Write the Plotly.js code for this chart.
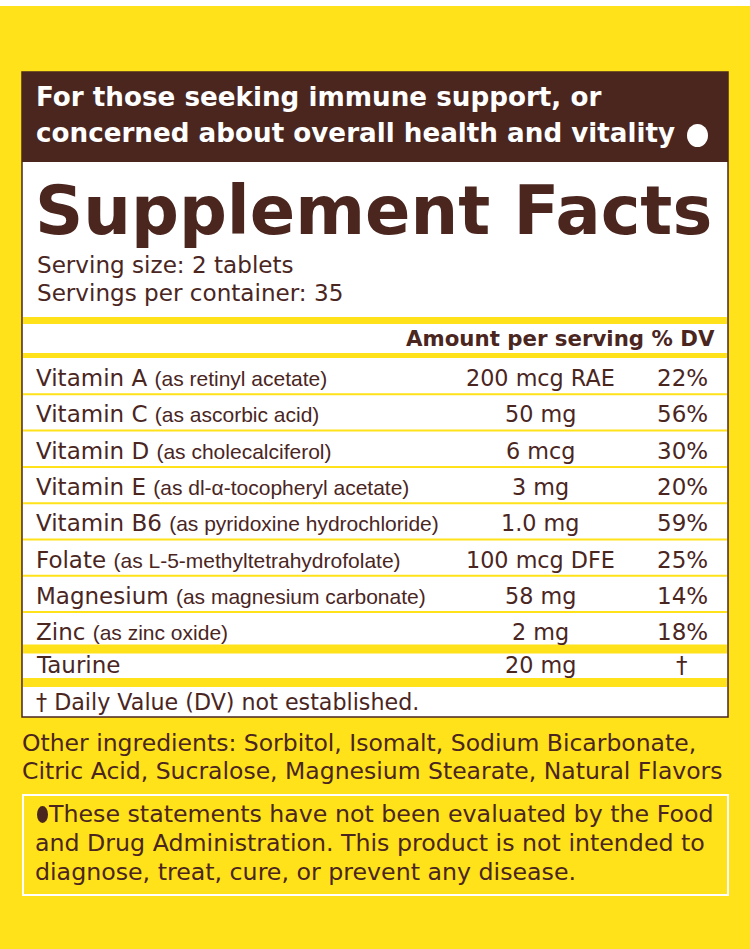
<!DOCTYPE html>
<html>
<head>
<meta charset="utf-8">
<script src="https://cdn.plot.ly/plotly-3.0.1.min.js"></script>
<style>html,body{margin:0;padding:0;background:#FFE21A;}#chart{width:750px;height:949px;}</style>
</head>
<body>
<div id="chart"></div>
<script>
// ---- data ----
const headline = ["For those seeking immune support, or", "concerned about overall health and vitality"];
const title = "Supplement Facts";
const servingInfo = ["Serving size: 2 tablets", "Servings per container: 35"];
const columnHeader = "Amount per serving % DV";
const nutrients = ["Vitamin A", "Vitamin C", "Vitamin D", "Vitamin E", "Vitamin B6", "Folate", "Magnesium", "Zinc", "Taurine"];
const sources = ["(as retinyl acetate)", "(as ascorbic acid)", "(as cholecalciferol)", "(as dl-\u03b1-tocopheryl acetate)", "(as pyridoxine hydrochloride)", "(as L-5-methyltetrahydrofolate)", "(as magnesium carbonate)", "(as zinc oxide)", ""];
const amounts = ["200 mcg RAE", "50 mg", "6 mcg", "3 mg", "1.0 mg", "100 mcg DFE", "58 mg", "2 mg", "20 mg"];
const dailyValues = ["22%", "56%", "30%", "20%", "59%", "25%", "14%", "18%", "\u2020"];
const footnote = "\u2020 Daily Value (DV) not established.";
const otherIngredients = ["Other ingredients: Sorbitol, Isomalt, Sodium Bicarbonate,", "Citric Acid, Sucralose, Magnesium Stearate, Natural Flavors"];
const disclaimer = ["These statements have not been evaluated by the Food", "and Drug Administration. This product is not intended to", "diagnose, treat, cure, or prevent any disease."];

// ---- style ----
const YEL = "#FFE21A", BROWN = "#4A261F", WHITE = "#FFFFFF";
const FONT = "DejaVu Sans, sans-serif";

const shapes = [], ann = [];
function rect(x0, y0, x1, y1, fill, line) {
  shapes.push({type: "rect", xref: "x", yref: "y", x0, y0, x1, y1, fillcolor: fill,
    line: line || {width: 0}, layer: "below"});
}
function text(t, x, y, size, color, anchor, bold) {
  ann.push({text: bold ? "<b>" + t + "</b>" : t, x, y, xref: "x", yref: "y", showarrow: false,
    xanchor: anchor || "left", yanchor: "middle", borderpad: 0, font: {size, color, family: FONT}});
}

// top white strip
rect(0, 0, 750, 6, WHITE);
// panel
rect(22, 72, 728, 717, WHITE, {color: BROWN, width: 1.5});
rect(22, 72, 728, 162, BROWN);
// separators
rect(23, 317, 727, 324, YEL);
rect(23, 353, 727, 358, YEL);
const rowTop = 358, pitch = 36.3;
for (let i = 1; i < nutrients.length; i++) {
  const y = rowTop + pitch * i;
  if (i === nutrients.length - 1) rect(23, y - 4, 727, y + 5, YEL);
  else rect(23, y - 1, 727, y + 1, YEL);
}
rect(23, 678, 727, 687, YEL);

// headline
headline.forEach((t, i) => text(t, 35, 97 + i * 36, 26.2, WHITE, "left", true));
shapes.push({type: "circle", xref: "x", yref: "y", x0: 687, x1: 708, y0: 124, y1: 147, fillcolor: WHITE, line: {width: 0}});

// title
text(title, 34, 211, 67, BROWN, "left", true);
servingInfo.forEach((t, i) => text(t, 36, 265 + i * 28, 23.1, BROWN));

// column header
text(columnHeader, 716, 338.5, 21.3, BROWN, "right", true);

// rows
nutrients.forEach((n, i) => {
  const y = i === nutrients.length - 1 ? 665 : rowTop + pitch * i + pitch / 2 + 2;
  const src = sources[i] ? " <span style=\"font-family:Liberation Sans;font-size:21px\">" + sources[i] + "</span>" : "";
  text(n + src, 35, y, 23, BROWN);
  text(amounts[i], 540, y, 22.3, BROWN, "center");
  text(dailyValues[i], 682, y, 23, BROWN, "center");
});
text(footnote, 35, 701.5, 22.2, BROWN);

// other ingredients
otherIngredients.forEach((t, i) => text(t, 21, 743 + i * 28, 23.5, BROWN));

// disclaimer box
shapes.push({type: "rect", xref: "x", yref: "y", x0: 23, x1: 728, y0: 795, y1: 895, line: {color: WHITE, width: 2}, fillcolor: "rgba(0,0,0,0)"});
shapes.push({type: "circle", xref: "x", yref: "y", x0: 37, x1: 48, y0: 806, y1: 823, fillcolor: BROWN, line: {width: 0}});
disclaimer.forEach((t, i) => text(t, i === 0 ? 47 : 34, 813.5 + i * 29, 23.7, BROWN));

Plotly.newPlot("chart", [], {
  width: 750, height: 949,
  margin: {l: 0, r: 0, t: 0, b: 0},
  paper_bgcolor: YEL, plot_bgcolor: YEL,
  xaxis: {range: [0, 750], visible: false, fixedrange: true},
  yaxis: {range: [949, 0], visible: false, fixedrange: true},
  shapes, annotations: ann, showlegend: false
}, {displayModeBar: false, staticPlot: true});
</script>
</body>
</html>
